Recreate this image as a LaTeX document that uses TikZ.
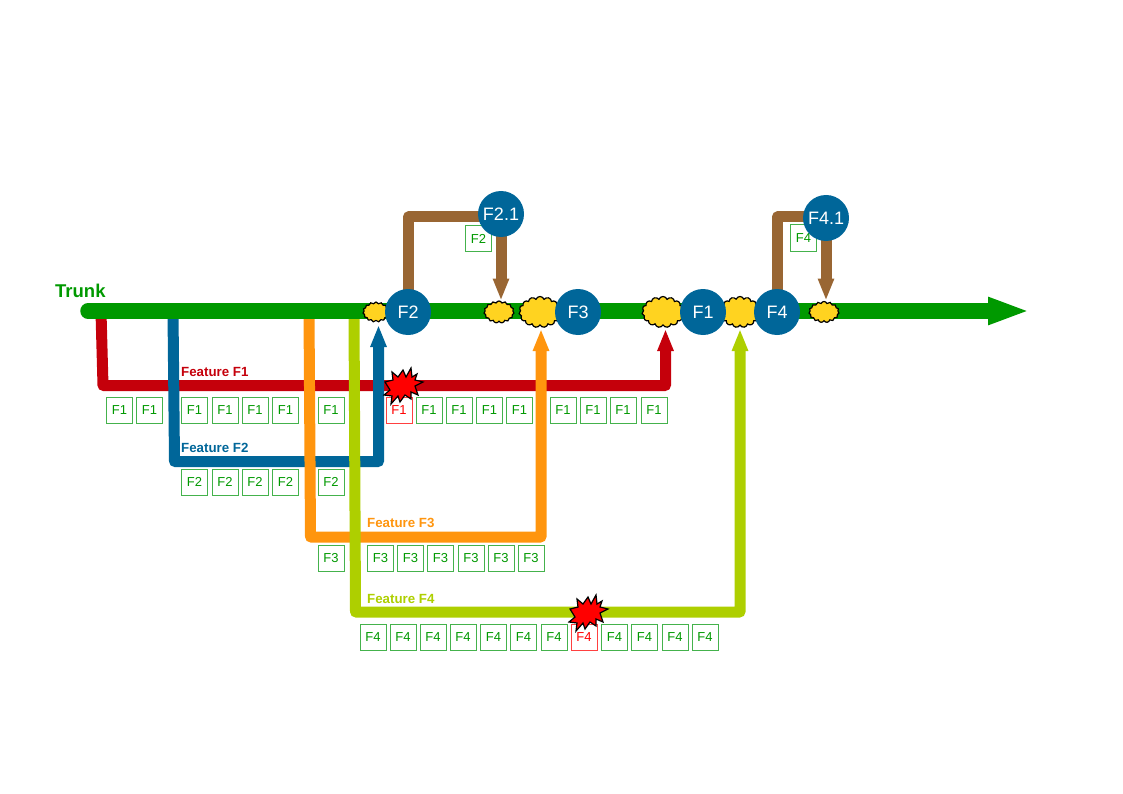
\documentclass[tikz,border=0pt]{standalone}
\usepackage{fontspec}
\setmainfont{Liberation Sans}
\usetikzlibrary{arrows.meta,backgrounds,shapes.symbols}
\definecolor{trunkgreen}{HTML}{009900}
\definecolor{boxgreen}{HTML}{44B24C}
\definecolor{featred}{HTML}{C5000B}
\definecolor{featblue}{HTML}{006699}
\definecolor{featorange}{HTML}{FF950E}
\definecolor{featlime}{HTML}{AECF00}
\definecolor{hotbrown}{HTML}{996633}
\definecolor{mergeyellow}{HTML}{FFD320}
\tikzset{
  release/.style={circle,fill=featblue,text=white,inner sep=0pt,minimum size=46pt,font=\fontsize{18}{18}\selectfont},
  commit/.style={draw=boxgreen,fill=white,text=trunkgreen,line width=1pt,inner sep=0pt,minimum size=26pt,font=\fontsize{13}{13}\selectfont},
  broken/.style={commit,draw=red!75,text=red},
  merge/.style={cloud,cloud puffs=15,cloud puff arc=140,aspect=1.4,draw=black,fill=mergeyellow,line width=1.2pt,inner sep=0pt},
  flabel/.style={anchor=west,inner sep=0pt,font=\fontsize{13.3}{13.3}\selectfont\bfseries},
  branch/.style={line width=11pt,line join=round,-{Triangle[length=22pt,width=15pt]}},
  bang/.pic={
    \draw[black,fill=red,line width=1.2pt] (-17,-4) -- (-9,-6) -- (-10,-14) -- (-4,-9) -- (1,-16) -- (4,-9) -- (9,-18)
      -- (10,-9) -- (15,-12) -- (13,-6) -- (21,-4) -- (13,0) -- (16,9) -- (9,6) -- (9,13) -- (3,9) -- (-2,16)
      -- (-4,10) -- (-11,18) -- (-10,10) -- (-18,9) -- (-12,4) -- cycle;
  }
}
\begin{document}
\begin{tikzpicture}[x=1pt,y=-1pt]
      \useasboundingbox (0,0) rectangle (1123,794);
      % merges
      \node[merge,minimum width=26pt,minimum height=20pt] (m1) at (376,312) {};
      \node[merge,minimum width=30pt,minimum height=22pt] (m2) at (499,312) {};
      \node[merge,minimum width=42pt,minimum height=31pt] (m3) at (540,312) {};
      \node[merge,minimum width=42pt,minimum height=31pt] (m4) at (663,312) {};
      \node[merge,minimum width=40pt,minimum height=31pt] (m5) at (740,312) {};
      \node[merge,minimum width=30pt,minimum height=21pt] (m6) at (824,312) {};
      % labels
      \node[anchor=west,inner sep=0pt,text=trunkgreen,font=\fontsize{18.5}{18.5}\selectfont\bfseries] (trunk) at (55,291) {Trunk};
      \node[flabel,text=featred] (lf1) at (181,371.5) {Feature F1};
      \node[flabel,text=featblue] (lf2) at (181,447.5) {Feature F2};
      \node[flabel,text=featorange] (lf3) at (367,522.5) {Feature F3};
      \node[flabel,text=featlime] (lf4) at (367,598.5) {Feature F4};
      % commits on F1
      \begin{scope}[every node/.style={commit}]
        \node (a1) at (119.5,410) {F1};
        \node (a2) at (149.5,410) {F1};
        \node (a3) at (194.5,410) {F1};
        \node (a4) at (225,410) {F1};
        \node (a5) at (255,410) {F1};
        \node (a6) at (285.5,410) {F1};
        \node (a7) at (331,410) {F1};
        \node[broken] (a8) at (399,410) {F1};
        \node (a9) at (429,410) {F1};
        \node (a10) at (459,410) {F1};
        \node (a11) at (489.5,410) {F1};
        \node (a12) at (519.5,410) {F1};
        \node (a13) at (563,410) {F1};
        \node (a14) at (593,410) {F1};
        \node (a15) at (623,410) {F1};
        \node (a16) at (654,410) {F1};
      % commits on F2
        \node (b1) at (194.5,482) {F2};
        \node (b2) at (225,482) {F2};
        \node (b3) at (255,482) {F2};
        \node (b4) at (285.5,482) {F2};
        \node (b5) at (331,482) {F2};
      % commits on F3
        \node (c1) at (331,558) {F3};
        \node (c2) at (380.5,558) {F3};
        \node (c3) at (410.5,558) {F3};
        \node (c4) at (440.5,558) {F3};
        \node (c5) at (471,558) {F3};
        \node (c6) at (501,558) {F3};
        \node (c7) at (531,558) {F3};
      % commits on F4
        \node (d1) at (373,637) {F4};
        \node (d2) at (403,637) {F4};
        \node (d3) at (433,637) {F4};
        \node (d4) at (463,637) {F4};
        \node (d5) at (493.5,637) {F4};
        \node (d6) at (523.5,637) {F4};
        \node (d7) at (554,637) {F4};
        \node[broken] (d8) at (584,637) {F4};
        \node (d9) at (614.5,637) {F4};
        \node (d10) at (644.5,637) {F4};
        \node (d11) at (675,637) {F4};
        \node (d12) at (705,637) {F4};
      % hotfix commits
        \node (h1) at (478.5,238.5) {F2};
        \node (h2) at (803.5,238) {F4};
      \end{scope}
      % releases
      \begin{scope}[every node/.style={release}]
        \node (f2) at (408,312) {F2};
        \node (f3) at (578,312) {F3};
        \node (f1) at (703,312) {F1};
        \node (f4) at (777,312) {F4};
        \node (f21) at (501,214) {F2.1};
        \node (f41) at (826,218) {F4.1};
      \end{scope}
      % bugs
      \pic (x1) at (402,386) {bang};
      \pic (x2) at (587,613) {bang};
      % corners and free ends
      \coordinate (t0) at (88,311);
      \coordinate (t1) at (1030,311);
      \coordinate (r0) at (101,312);
      \coordinate (r1) at (103,385.5);
      \coordinate (r2) at (665.5,385.5);
      \coordinate (r3) at (665.5,329);
      \coordinate (s0) at (173,312);
      \coordinate (s1) at (174.5,461.5);
      \coordinate (s2) at (378.5,461.5);
      \coordinate (s3) at (378.5,325);
      \coordinate (u0) at (309,312);
      \coordinate (u1) at (310.5,537);
      \coordinate (u2) at (541,537);
      \coordinate (u3) at (541,329);
      \coordinate (v0) at (354,312);
      \coordinate (v1) at (355.5,612);
      \coordinate (v2) at (740,612);
      \coordinate (v3) at (740,329);
      \coordinate (w1) at (408.5,217);
      \coordinate (w2) at (501,300.5);
      \coordinate (y1) at (777.5,217);
      \coordinate (y2) at (826,300.5);
      \begin{scope}[on background layer]
        \draw[branch,featred] (r0) -- (r1) -- (r2) -- (r3);
        \draw[branch,featblue] (s0) -- (s1) -- (s2) -- (s3);
        \draw[branch,featorange] (u0) -- (u1) -- (u2) -- (u3);
        \draw[branch,featlime] (v0) -- (v1) -- (v2) -- (v3);
        \draw[trunkgreen,line width=15.5pt,line cap=round,-{Triangle[length=42pt,width=25pt]}] (t0) -- (t1);
        \draw[hotbrown,line width=11pt,line join=round] (f2.center -| w1) -- (w1) -- (w1 -| f21.center);
        \draw[hotbrown,line width=11pt,line join=round] (f4.center -| y1) -- (y1) -- (y1 -| f41.center);
        \draw[hotbrown,line width=11pt,-{Triangle[length=22pt,width=15pt]}] (f21.center) -- (w2);
        \draw[hotbrown,line width=11pt,-{Triangle[length=22pt,width=15pt]}] (f41.center) -- (y2);
      \end{scope}
\end{tikzpicture}
\end{document}
